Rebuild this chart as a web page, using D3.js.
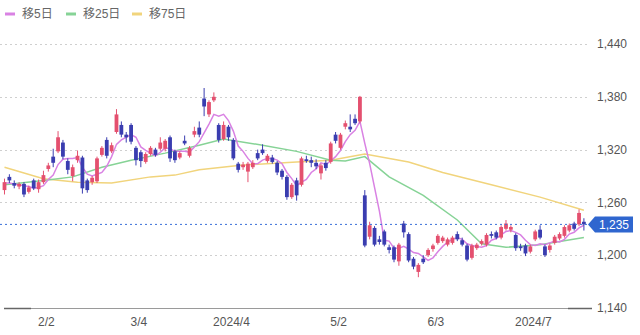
<!DOCTYPE html>
<meta charset="utf-8">
<title>Candles</title>
<style>
body { margin: 0; background: #fff; }
svg { font-family: "Liberation Sans", "Noto Sans CJK JP", sans-serif; }
.grid line { stroke: #cfcfcf; stroke-dasharray: 2,3; }
.lbl { fill: #555; font-size: 12px; }
</style>
<body>
<script src="https://cdnjs.cloudflare.com/ajax/libs/d3/7.8.5/d3.min.js"></script>
<script>
// daily prices, 2024-01-23 .. 2024-07-17
var open = [1274,1289,1282,1278,1281,1272,1285,1275,1283,1298,1312,1318,1328,1307,1290,1308,1311,1285,1283,1284,
  1314,1331,1318,1340,1348,1337,1348,1322,1317,1306,1315,1320,1321,1321,1334,1318,1311,1330,1313,1337,
  1345,1378,1360,1376,1348,1332,1346,1331,1304,1300,1295,1300,1316,1320,1307,1311,1305,1296,1289,1266,
  1285,1280,1309,1308,1305,1293,1305,1306,1337,1322,1346,1346,1355,1352,1268,1221,1231,1218,1227,1209,
  1209,1193,1236,1224,1196,1181,1196,1200,1207,1214,1216,1212,1214,1224,1217,1211,1197,1208,1213,1212,
  1224,1226,1220,1230,1229,1223,1210,1211,1204,1218,1229,1210,1206,1214,1219,1222,1228,1236,1235,1238];
var high = [1287,1292,1285,1283,1283,1279,1287,1286,1296,1305,1321,1341,1331,1310,1303,1319,1313,1287,1290,1312,
  1324,1334,1328,1366,1352,1340,1350,1324,1319,1317,1324,1322,1334,1332,1336,1320,1318,1336,1324,1346,
  1352,1390,1376,1385,1350,1352,1348,1333,1306,1306,1306,1308,1320,1326,1315,1314,1307,1298,1291,1282,
  1288,1312,1313,1312,1309,1304,1308,1329,1340,1339,1353,1360,1360,1381,1274,1238,1233,1222,1229,1212,
  1211,1214,1239,1226,1198,1191,1200,1208,1213,1224,1222,1220,1222,1227,1220,1213,1213,1214,1218,1225,
  1227,1228,1234,1240,1234,1225,1213,1213,1212,1229,1234,1212,1213,1223,1226,1234,1236,1238,1252,1242];
var low = [1269,1282,1276,1275,1266,1270,1274,1271,1281,1295,1300,1316,1309,1292,1284,1305,1270,1271,1280,1282,
  1312,1310,1316,1338,1334,1328,1326,1302,1300,1304,1313,1312,1319,1318,1306,1305,1309,1325,1311,1334,
  1334,1358,1357,1374,1328,1330,1330,1308,1294,1297,1283,1298,1308,1314,1305,1304,1291,1286,1263,1264,
  1262,1278,1305,1300,1298,1286,1296,1304,1327,1320,1343,1340,1348,1350,1209,1218,1210,1212,1210,1202,
  1192,1188,1220,1192,1184,1175,1190,1198,1204,1212,1214,1210,1212,1216,1210,1193,1195,1206,1211,1210,
  1219,1218,1218,1228,1226,1205,1205,1199,1202,1216,1218,1198,1203,1212,1217,1220,1226,1228,1233,1228];
var close = [1283,1285,1279,1281,1269,1277,1276,1283,1291,1302,1305,1334,1312,1297,1300,1313,1276,1274,1288,1310,
  1322,1313,1325,1360,1337,1334,1329,1308,1307,1315,1322,1314,1328,1330,1310,1308,1316,1327,1322,1341,
  1337,1369,1374,1380,1331,1348,1334,1310,1297,1303,1304,1305,1310,1316,1313,1306,1294,1289,1266,1280,
  1268,1310,1307,1305,1301,1302,1299,1327,1330,1337,1350,1343,1350,1380,1211,1234,1212,1215,1212,1206,
  1195,1212,1226,1194,1187,1189,1192,1206,1211,1222,1220,1218,1220,1218,1212,1195,1211,1212,1216,1223,
  1222,1220,1232,1236,1232,1208,1208,1202,1210,1227,1220,1200,1211,1221,1224,1232,1234,1230,1248,1235];

// moving averages
var ma5 = [1282,1282,1281,1280,1279,1278,1276,1277,1279,1286,1291,1303,1309,1310,1310,1311,1300,1292,1290,1292,
  1294,1301,1312,1326,1331,1334,1337,1334,1323,1319,1316,1313,1317,1322,1321,1318,1318,1318,1317,1323,
  1329,1339,1349,1360,1358,1360,1353,1341,1324,1318,1310,1304,1304,1308,1310,1310,1308,1304,1294,1287,
  1279,1283,1286,1294,1298,1305,1303,1307,1312,1319,1329,1337,1342,1352,1327,1304,1277,1250,1217,1216,
  1208,1208,1210,1207,1203,1202,1198,1194,1197,1204,1210,1215,1218,1220,1218,1213,1211,1210,1209,1211,
  1217,1219,1223,1227,1228,1226,1223,1217,1212,1211,1213,1212,1214,1216,1215,1218,1224,1226,1231,1234];
var ma25 = [[0,1280],[8,1285],[14,1289],[20,1300],[26,1308],[33,1316],[40,1325],[45,1332],[53,1325],[60,1318],
  [67,1308],[70,1307],[74,1312],[79,1289],[86,1268],[93,1240],[98,1213],[103,1209],[110,1212],[119,1220]];
var ma75 = [[0,1300],[8,1287],[15,1283],[22,1282],[30,1289],[35,1291],[40,1297],[48,1302],[60,1306],[67,1308],
  [74,1315],[83,1306],[90,1294],[100,1280],[110,1266],[119,1251]];

var yTicks = [1140, 1200, 1260, 1320, 1380, 1440];
var xTickIdx = [8, 27, 46, 68, 88, 108];
var xTickLabels = ["2/2", "3/4", "2024/4", "5/2", "6/3", "2024/7"];
var maNames = ["移5日", "移25日", "移75日"];
var maColors = ["#d982e3", "#86d396", "#f1d47c"];

var w = 640, h = 335;
var upColor = "#e4506f", downColor = "#3a3db0";

var svg = d3.select("body").append("svg")
    .attr("width", w)
    .attr("height", h);

var x = d3.scaleBand()
    .domain(d3.range(close.length))
    .range([2.6, 585.8])
    .paddingInner(0.22);
var y = d3.scaleLinear()
    .domain([1140, 1440])
    .range([308, 44]);
function cx(i) { return x(i) + x.bandwidth() / 2; }

// grid
svg.append("g").attr("class", "grid")
  .selectAll("line")
    .data(yTicks.slice(1))
  .enter().append("line")
    .attr("x1", 0).attr("x2", 590)
    .attr("y1", function(d) { return Math.round(y(d)) + 0.5; })
    .attr("y2", function(d) { return Math.round(y(d)) + 0.5; });

// bottom axis line
svg.append("line")
    .attr("x1", 4).attr("x2", 592)
    .attr("y1", Math.round(y(1140)) + 0.5).attr("y2", Math.round(y(1140)) + 0.5)
    .style("stroke", "#9a9a9a");
svg.selectAll(".edge")
    .data([[4, 31], [568, 592]])
  .enter().append("line")
    .attr("x1", function(d) { return d[0]; }).attr("x2", function(d) { return d[1]; })
    .attr("y1", Math.round(y(1140)) + 0.5).attr("y2", Math.round(y(1140)) + 0.5)
    .style("stroke", "#666").style("stroke-width", 1.5);

// y labels
svg.selectAll(".ylab")
    .data(yTicks)
  .enter().append("text")
    .attr("class", "lbl")
    .attr("x", 597)
    .attr("y", function(d) { return y(d); })
    .attr("dy", "0.35em")
    .text(d3.format(","));

// x labels
svg.selectAll(".xlab")
    .data(xTickIdx)
  .enter().append("text")
    .attr("class", "lbl")
    .attr("x", function(d) { return cx(d) + 3; })
    .attr("y", 322)
    .attr("dy", "0.35em")
    .attr("text-anchor", "middle")
    .text(function(d, i) { return xTickLabels[i]; });

// moving averages
var line = d3.line().x(function(d) { return cx(d[0]); }).y(function(d) { return y(d[1]); });
var series = [ma75, ma25, ma5.map(function(v, i) { return [i, v]; })];
var sColors = [maColors[2], maColors[1], maColors[0]];
svg.selectAll(".ma")
    .data(series)
  .enter().append("path")
    .attr("d", line)
    .style("fill", "none")
    .style("stroke", function(d, i) { return sColors[i]; })
    .style("stroke-width", 1.5);

// candles
var c = svg.selectAll(".candle")
    .data(close)
  .enter().append("g");
c.append("line")
    .attr("x1", function(d, i) { return cx(i); })
    .attr("x2", function(d, i) { return cx(i); })
    .attr("y1", function(d, i) { return y(high[i]); })
    .attr("y2", function(d, i) { return y(low[i]); })
    .style("stroke", function(d, i) { return d >= open[i] ? upColor : downColor; })
    .style("stroke-width", 1);
c.append("rect")
    .attr("x", function(d, i) { return x(i); })
    .attr("width", x.bandwidth())
    .attr("y", function(d, i) { return y(Math.max(d, open[i])); })
    .attr("height", function(d, i) { return Math.max(1, Math.abs(y(d) - y(open[i]))); })
    .style("fill", function(d, i) { return d >= open[i] ? upColor : downColor; });

// last price marker
var last = close[close.length - 1];
var ly = y(last);
svg.append("line")
    .attr("x1", 0).attr("x2", 590)
    .attr("y1", ly).attr("y2", ly)
    .style("stroke", "#3a6fd8").style("stroke-dasharray", "2,3");
svg.append("path")
    .attr("d", "M588," + ly + "L595," + (ly - 8) + "H633V" + (ly + 8) + "H595Z")
    .style("fill", "#2f66cf");
svg.append("text")
    .attr("x", 614).attr("y", ly).attr("dy", "0.35em")
    .attr("text-anchor", "middle")
    .style("fill", "#fff").style("font-size", "12px")
    .text(d3.format(",")(last));

// legend
var lg = svg.selectAll(".leg")
    .data(maNames)
  .enter().append("g")
    .attr("transform", function(d, i) { return "translate(" + [5, 66, 132][i] + ",14)"; });
lg.append("line")
    .attr("x1", 0).attr("x2", 10)
    .style("stroke", function(d, i) { return maColors[i]; })
    .style("stroke-width", 3);
lg.append("text")
    .attr("class", "lbl")
    .attr("x", 17).attr("dy", "0.35em")
    .style("fill", "#666")
    .text(function(d) { return d; });
</script>
